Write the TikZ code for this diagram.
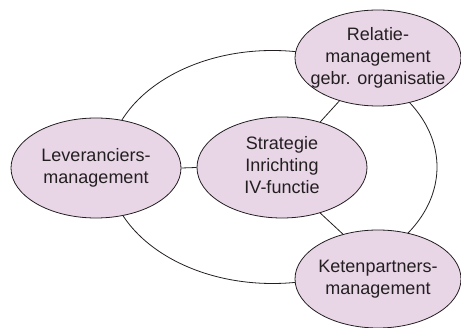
\documentclass[tikz,border=0pt]{standalone}
\usepackage{fontspec}
\setmainfont{Liberation Sans}
\usetikzlibrary{shapes.geometric}
\definecolor{ovalfill}{RGB}{232,214,231}
\definecolor{inkline}{RGB}{35,31,32}
% centred multi-line label that does not widen the oval
\newcommand{\ovaltext}[1]{\makebox[0pt]{\begin{tabular}{@{}c@{}}#1\end{tabular}}}
\begin{document}
\begin{tikzpicture}[x=1pt,y=-1pt,
  oval/.style={ellipse, draw=inkline, fill=ovalfill, line width=0.8pt,
    inner sep=0pt, text=inkline, font=\fontsize{18pt}{22pt}\selectfont},
  link/.style={draw=inkline, line width=0.8pt}]
\useasboundingbox (0,0) rectangle (461,328);

% outer ring joining the three outer ovals
\coordinate (ring) at (272.5,167);
\draw[link] (ring) ellipse [x radius=164.5pt, y radius=116.5pt];

\node[oval, minimum width=170pt, minimum height=100pt] (lev) at (96,168)
  {\ovaltext{Leveranciers-\\management}};
\node[oval, minimum width=170pt, minimum height=101pt] (strat) at (282,167.5)
  {\ovaltext{Strategie\\Inrichting\\IV-functie}};
\node[oval, minimum width=166pt, minimum height=96pt] (rel) at (378,58)
  {\raisebox{7pt}{\ovaltext{Relatie-\\management\\gebr. organisatie}}};
\node[oval, minimum width=166pt, minimum height=98pt] (keten) at (378,279)
  {\ovaltext{Ketenpartners-\\management}};

% spokes from the centre oval
\draw[link] (lev.east) -- (strat.west);
\draw[link] (strat.50) -- (rel.228);
\draw[link] (strat.-50) -- (keten.128);
\end{tikzpicture}
\end{document}
